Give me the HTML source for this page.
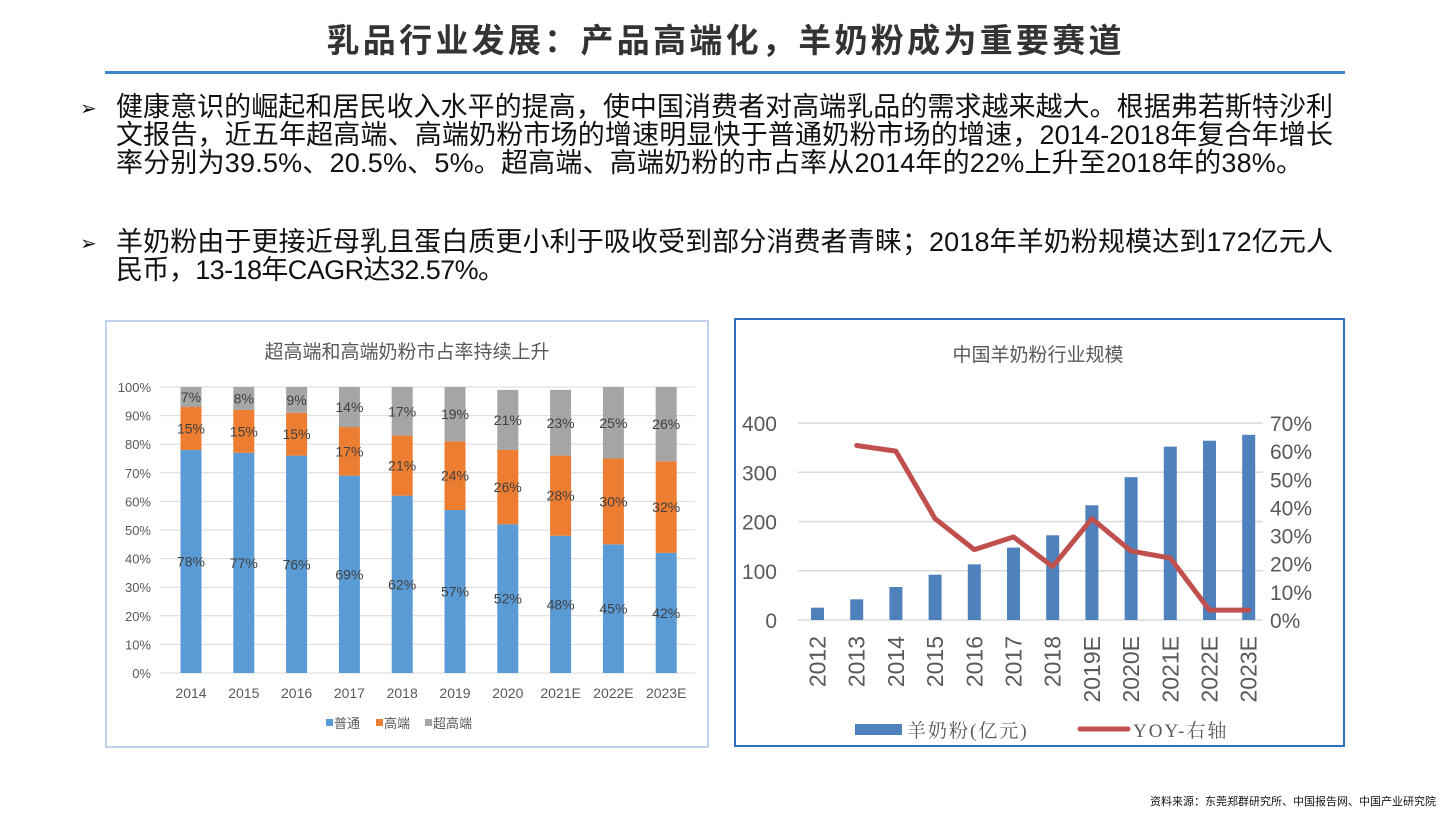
<!DOCTYPE html>
<html><head><meta charset="utf-8"><style>
body{margin:0;background:#fff;}
svg{display:block;font-family:"Liberation Sans","Noto Sans CJK SC",sans-serif;}
</style></head><body>
<svg width="1448" height="814" viewBox="0 0 1448 814" xmlns="http://www.w3.org/2000/svg">
<rect width="1448" height="814" fill="#fff"/>
<text x="724" y="52" text-anchor="middle" font-size="33" font-weight="bold" fill="#333" textLength="795">乳品行业发展：产品高端化，羊奶粉成为重要赛道</text>
<rect x="105" y="71" width="1240" height="3" fill="#3d85c6"/>
<g font-size="27" fill="#111">
<text x="80" y="115" font-size="20">➢</text>
<text x="116" y="116" textLength="1217">健康意识的崛起和居民收入水平的提高，使中国消费者对高端乳品的需求越来越大。根据弗若斯特沙利</text>
<text x="116" y="144" textLength="1217">文报告，近五年超高端、高端奶粉市场的增速明显快于普通奶粉市场的增速，2014-2018年复合年增长</text>
<text x="116" y="172" textLength="1187">率分别为39.5%、20.5%、5%。超高端、高端奶粉的市占率从2014年的22%上升至2018年的38%。</text>
<text x="80" y="250" font-size="20">➢</text>
<text x="116" y="251" textLength="1217">羊奶粉由于更接近母乳且蛋白质更小利于吸收受到部分消费者青睐；2018年羊奶粉规模达到172亿元人</text>
<text x="116" y="279" textLength="389">民币，13-18年CAGR达32.57%。</text>
</g>
<text x="1436" y="805" text-anchor="end" font-size="11" fill="#111">资料来源：东莞郑群研究所、中国报告网、中国产业研究院</text>

<rect x="106" y="321" width="602" height="426" fill="#fff" stroke="#a9c6e8" stroke-width="1.5"/>
<text x="407" y="358" text-anchor="middle" font-size="19" fill="#595959">超高端和高端奶粉市占率持续上升</text>
<g id="lc"></g>

<rect x="735" y="319" width="609" height="427" fill="#fff" stroke="#2e6fc0" stroke-width="2"/>
<text x="1038" y="361" text-anchor="middle" font-size="19" fill="#595959">中国羊奶粉行业规模</text>
<g id="rc"></g>
</svg>
<script>
var ns="http://www.w3.org/2000/svg";
function el(p,t,a,txt){var e=document.createElementNS(ns,t);for(var k in a)e.setAttribute(k,a[k]);if(txt!==undefined)e.textContent=txt;p.appendChild(e);return e;}
var lc=document.getElementById('lc');
var y0=673,y1=387,h=y0-y1;
for(var i=0;i<=10;i++){var y=y0-h*i/10;el(lc,'line',{x1:160,x2:695,y1:y,y2:y,stroke:'#d9d9d9','stroke-width':1});
el(lc,'text',{x:151,y:y+5,'text-anchor':'end','font-size':13,fill:'#595959'},(i*10)+'%');}
var yrs=['2014','2015','2016','2017','2018','2019','2020','2021E','2022E','2023E'];
var a=[78,77,76,69,62,57,52,48,45,42],b=[15,15,15,17,21,24,26,28,30,32],c=[7,8,9,14,17,19,21,23,25,26];
for(var i=0;i<10;i++){var cx=191+i*52.8,w=21;
 var ya=y0-h*a[i]/100,yb=ya-h*b[i]/100,yc=yb-h*c[i]/100;
 el(lc,'rect',{x:cx-w/2,y:ya,width:w,height:y0-ya,fill:'#5b9bd5'});
 el(lc,'rect',{x:cx-w/2,y:yb,width:w,height:ya-yb,fill:'#ed7d31'});
 el(lc,'rect',{x:cx-w/2,y:yc,width:w,height:yb-yc,fill:'#a5a5a5'});
 el(lc,'text',{x:cx,y:(y0+ya)/2+5,'text-anchor':'middle','font-size':14,fill:'#404040'},a[i]+'%');
 el(lc,'text',{x:cx,y:(ya+yb)/2+5,'text-anchor':'middle','font-size':14,fill:'#404040'},b[i]+'%');
 el(lc,'text',{x:cx,y:(yb+yc)/2+5,'text-anchor':'middle','font-size':14,fill:'#404040'},c[i]+'%');
 el(lc,'text',{x:cx,y:698,'text-anchor':'middle','font-size':14,fill:'#595959'},yrs[i]);}
var lg=[[334,'#5b9bd5','普通'],[384,'#ed7d31','高端'],[433,'#a5a5a5','超高端']];
lg.forEach(function(l){el(lc,'rect',{x:l[0]-8,y:719,width:7,height:7,fill:l[1]});el(lc,'text',{x:l[0],y:728,'font-size':13,fill:'#595959'},l[2]);});
var rc=document.getElementById('rc');
var r0=620,r1=423,rh=r0-r1;
for(var i=0;i<=4;i++){var y=r0-rh*i/4;el(rc,'line',{x1:798,x2:1263,y1:y,y2:y,stroke:'#d9d9d9','stroke-width':1.5});
el(rc,'text',{x:777,y:y+8,'text-anchor':'end','font-size':21,fill:'#595959'},(i*100)+'');}
for(var i=0;i<=7;i++){var y=r0-rh*i/7;el(rc,'text',{x:1270,y:y+8,'font-size':21,fill:'#595959'},(i*10)+'%');}
var ry=['2012','2013','2014','2015','2016','2017','2018','2019E','2020E','2021E','2022E','2023E'];
var v=[25,42,67,92,113,147,172,233,290,352,364,376];
var g=[null,62,60,36,25,29.5,19,36,24.5,22,3.5,3.5];
var pts=[];
for(var i=0;i<12;i++){var cx=817.5+i*39.2;var yy=r0-rh*v[i]/400;
 el(rc,'rect',{x:cx-6.5,y:yy,width:13,height:r0-yy,fill:'#4f81bd'});
 el(rc,'text',{transform:'translate('+(cx+8)+',636) rotate(-90)','text-anchor':'end','font-size':23,fill:'#595959'},ry[i]);
 if(g[i]!==null)pts.push(cx+','+(r0-rh*g[i]/70));}
el(rc,'polyline',{points:pts.join(' '),fill:'none',stroke:'#c0504d','stroke-width':5,'stroke-linejoin':'round','stroke-linecap':'round'});
el(rc,'rect',{x:855,y:724,width:47,height:11,fill:'#4f81bd'});
el(rc,'text',{x:907,y:737,'font-size':19,fill:'#595959','letter-spacing':'2','font-family':'"Liberation Serif","Noto Serif CJK SC",serif'},'羊奶粉(亿元)');
el(rc,'line',{x1:1080,x2:1128,y1:729,y2:729,stroke:'#c0504d','stroke-width':5,'stroke-linecap':'round'});
el(rc,'text',{x:1133,y:737,'font-size':19,fill:'#595959','letter-spacing':'2','font-family':'"Liberation Serif","Noto Serif CJK SC",serif'},'YOY-右轴');
</script>
</body></html>
